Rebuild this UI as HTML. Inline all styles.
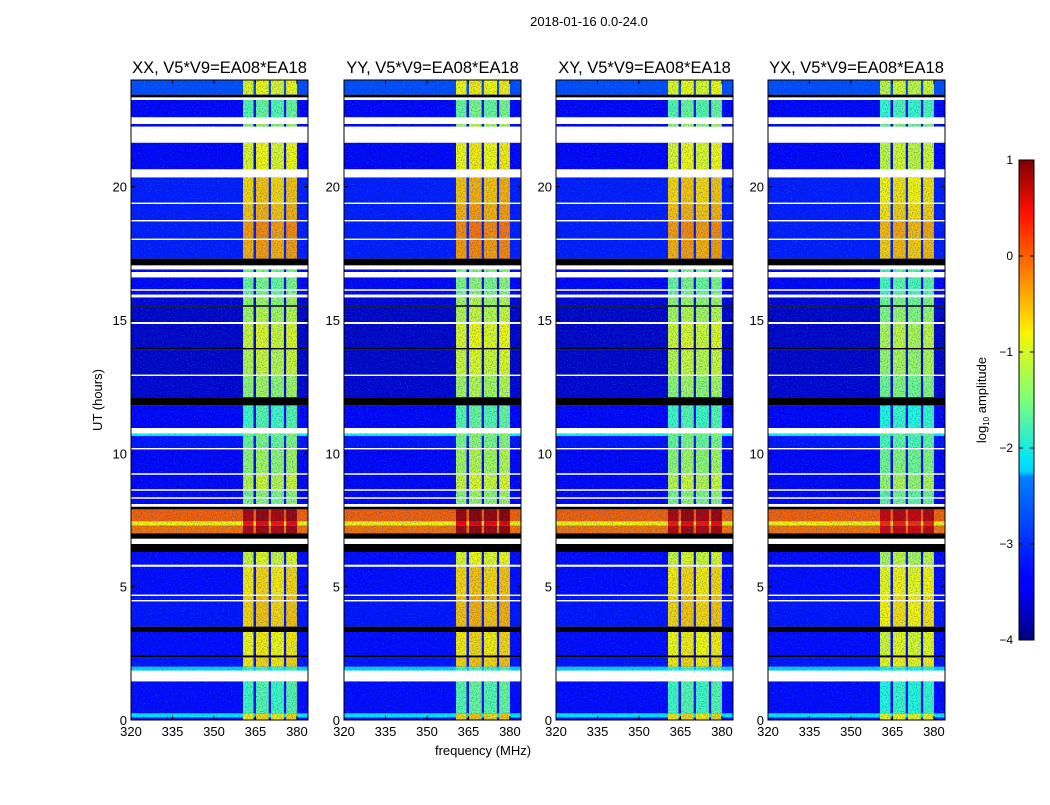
<!DOCTYPE html>
<html><head><meta charset="utf-8"><style>
body{margin:0;background:#fff;width:1050px;height:800px;overflow:hidden;font-family:"Liberation Sans",sans-serif}
svg text{font-family:"Liberation Sans",sans-serif;fill:#000}
</style></head><body>
<svg id="chart" width="1050" height="800" xmlns="http://www.w3.org/2000/svg">
<defs>
<filter id="noise" x="0" y="0" width="100%" height="100%">
<feTurbulence type="fractalNoise" baseFrequency="0.8" numOctaves="1" seed="3" result="n"/>
<feColorMatrix type="matrix" values="0 0 0 0 0  0 0 0 0 0.05  0 0 0 0 0.35  2.2 0 0 0 -0.95"/>
</filter>
<filter id="noise2" x="0" y="0" width="100%" height="100%">
<feTurbulence type="fractalNoise" baseFrequency="0.7" numOctaves="1" seed="11" result="n"/>
<feColorMatrix type="matrix" values="0 0 0 0 0.1  0 0 0 0 0.6  0 0 0 0 1  2.4 0 0 0 -1.3"/>
</filter>
<linearGradient id="jetgrad" x1="0" y1="1" x2="0" y2="0">
<stop offset="0" stop-color="#000080"/><stop offset="0.11" stop-color="#0000ff"/>
<stop offset="0.125" stop-color="#0000ff"/><stop offset="0.34" stop-color="#0080ff"/>
<stop offset="0.35" stop-color="#00d0ff"/><stop offset="0.375" stop-color="#00e4f8"/>
<stop offset="0.5" stop-color="#7dff7a"/><stop offset="0.64" stop-color="#f8f500"/>
<stop offset="0.66" stop-color="#ffe000"/><stop offset="0.8" stop-color="#ff6000"/>
<stop offset="0.89" stop-color="#ff1000"/><stop offset="1" stop-color="#800000"/>
</linearGradient>
</defs>
<text x="589" y="26" font-size="13" text-anchor="middle">2018-01-16 0.0-24.0</text>
<text x="483" y="755" font-size="13" text-anchor="middle">frequency (MHz)</text>
<text x="0" y="0" font-size="13" text-anchor="middle" transform="translate(102,400) rotate(-90)">UT (hours)</text>
<g id="panels"></g>
<g>
<rect x="1019" y="160" width="15" height="480" fill="url(#jetgrad)" stroke="#000" stroke-width="1"/>
<g id="cbticks"></g>
<text x="0" y="0" font-size="13" text-anchor="middle" transform="translate(986,400) rotate(-90)">log<tspan font-size="8" dy="3">10</tspan><tspan dy="-3"> amplitude</tspan></text>
</g>
</svg>
<script>
// data
const panelTitles = ["XX, V5*V9=EA08*EA18","YY, V5*V9=EA08*EA18","XY, V5*V9=EA08*EA18","YX, V5*V9=EA08*EA18"];
const bandShift = [0, 0.1, 0, -0.15];
const freqTicks = [320,335,350,365,380];
const timeTicks = [0,5,10,15,20];
const cbTicks = [1,0,-1,-2,-3,-4];
const cbLabels = ["1","0","\u22121","\u22122","\u22123","\u22124"];
// spectral windows (MHz)
const winStart = [360.5,365.2,370.6,376.1];
const winEnd   = [364.3,369.8,375.3,380.0];
// time segments: start hour, end hour, type (d=data, w=flagged white, k=black), bg level, band level
const segStart = [0.0,0.1,0.25,1.45,1.85,2.0,2.35,2.42,3.3,3.5,4.45,4.5,4.65,4.7,5.75,5.82,6.3,6.6,6.8,7.0,7.3,7.45,7.9,8.0,8.1,8.3,8.35,8.6,8.65,9.2,9.25,10.15,10.2,10.65,10.75,10.95,11.8,12.1,12.9,12.95,13.9,13.95,14.85,14.92,15.5,15.55,15.85,15.95,16.1,16.15,16.6,16.8,16.9,17.05,17.3,18.0,18.05,18.7,18.75,19.35,19.4,20.35,20.65,21.65,22.25,22.35,22.6,23.25,23.35,23.45];
const segEnd   = [0.1,0.25,1.45,1.85,2.0,2.35,2.42,3.3,3.5,4.45,4.5,4.65,4.7,5.75,5.82,6.3,6.6,6.8,7.0,7.3,7.45,7.9,8.0,8.1,8.3,8.35,8.6,8.65,9.2,9.25,10.15,10.2,10.65,10.75,10.95,11.8,12.1,12.9,12.95,13.9,13.95,14.85,14.92,15.5,15.55,15.85,15.95,16.1,16.15,16.6,16.8,16.9,17.05,17.3,18.0,18.05,18.7,18.75,19.35,19.4,20.35,20.65,21.65,22.25,22.35,22.6,23.25,23.35,23.45,24.0];
const segType  = ["d","d","d","w","d","d","k","d","k","d","w","d","w","d","w","d","k","w","k","d","d","d","k","w","d","w","d","w","d","w","d","w","d","d","w","d","k","d","w","d","k","d","w","d","k","d","w","d","w","d","w","d","w","k","d","w","d","w","d","w","d","w","d","w","d","w","d","w","k","d"];
const segBg    = [-3.3,-2.2,-3.35,0,-2.3,-3.3,0,-3.35,0,-3.3,0,-3.3,0,-3.35,0,-3.35,0,0,0,-0.2,-0.9,-0.1,0,0,-3.4,0,-3.4,0,-3.4,0,-3.4,0,-3.3,-2.1,0,-3.4,0,-3.6,0,-3.65,0,-3.65,0,-3.65,0,-3.55,0,-3.4,0,-3.4,0,-3.4,0,0,-3.25,0,-3.25,0,-3.25,0,-3.25,0,-3.4,0,-3.4,0,-3.4,0,0,-3.0];
const segBand  = [-0.8,-0.8,-1.8,0,-1.9,-0.8,0,-0.9,0,-0.7,0,-0.7,0,-0.8,0,-1.1,0,0,0,0.7,0.3,0.75,0,0,-1.5,0,-1.5,0,-1.2,0,-1.4,0,-1.6,-1.5,0,-1.8,0,-1.4,0,-1.2,0,-1.1,0,-1.3,0,-1.4,0,-1.6,0,-1.6,0,-1.6,0,0,-0.5,0,-0.4,0,-0.6,0,-0.7,0,-1.0,0,-1.4,0,-1.7,0,0,-1.0];

function jet(v){
  let t=Math.max(0,Math.min(1,(v+4)/5));
  const c=x=>Math.round(255*Math.max(0,Math.min(1,x)));
  const r=c(Math.min(4*t-1.5,-4*t+4.5)), g=c(Math.min(4*t-0.5,-4*t+3.5)), b=c(Math.min(4*t+0.5,-4*t+2.5));
  return `rgb(${r},${g},${b})`;
}
const NS="http://www.w3.org/2000/svg";
function mk(tag,attrs,parent){const e=document.createElementNS(NS,tag);for(const k in attrs)e.setAttribute(k,attrs[k]);parent.appendChild(e);return e;}
const panelX=[131,344,556,768], PW=177, PY0=80, PY1=720;
const fMin=320,fMax=384,tMin=0,tMax=24;
const root=document.getElementById('panels');
panelX.forEach((x0,p)=>{
  const xs=f=>x0+(f-fMin)/(fMax-fMin)*PW;
  const ys=t=>PY1-(t-tMin)/(tMax-tMin)*(PY1-PY0);
  const g=mk('g',{},root);
  
  
  const t=mk('text',{x:x0+PW/2,y:73,'font-size':16.5,'text-anchor':'middle'},g);
  t.textContent=panelTitles[p];
  
  
  const img=mk('g',{},g);
  
  
  for(let i=0;i<segStart.length;i++){
    if(segType[i]!=='d') continue;
    const y1=ys(segEnd[i]), y2=ys(segStart[i]), h=y2-y1;
    const r=mk('rect',{x:x0,y:y1,width:PW,height:h,fill:jet(segBg[i])},img);
    
    
    for(let w=0;w<winStart.length;w++){
      const c=mk('rect',{x:xs(winStart[w]),y:y1,width:xs(winEnd[w])-xs(winStart[w]),height:h,fill:jet(segBand[i]+bandShift[p]+(w%2?0.1:0))},img);
      
      
    }
  }
  mk('rect',{x:x0,y:PY0,width:PW,height:PY1-PY0,filter:'url(#noise)',opacity:0.6},img);
  mk('rect',{x:x0,y:PY0,width:PW,height:PY1-PY0,filter:'url(#noise2)',opacity:0.35},img);
  for(let i=0;i<segStart.length;i++){
    if(segType[i]==='d') continue;
    const y1=ys(segEnd[i]), y2=ys(segStart[i]), h=y2-y1;
    const r=mk('rect',{x:x0,y:y1,width:PW,height:h,fill:segType[i]==='w'?'#fff':'#000'},img);
    
    
  }
  const fr=mk('rect',{x:x0,y:PY0,width:PW,height:PY1-PY0,fill:'none',stroke:'#000','stroke-width':1},g);
  
  
  freqTicks.forEach(f=>{
    const x=xs(f);
    mk('line',{x1:x,x2:x,y1:PY1,y2:PY1-4,stroke:'#000'},g);
    mk('line',{x1:x,x2:x,y1:PY0,y2:PY0+4,stroke:'#000'},g);
    const l=mk('text',{x:x,y:PY1+16,'font-size':13,'text-anchor':'middle'},g);
    l.textContent=f;
    
    
  });
  timeTicks.forEach(tv=>{
    const y=ys(tv);
    mk('line',{x1:x0,x2:x0+4,y1:y,y2:y,stroke:'#000'},g);
    mk('line',{x1:x0+PW,x2:x0+PW-4,y1:y,y2:y,stroke:'#000'},g);
    const l=mk('text',{x:x0-4,y:y+5,'font-size':13,'text-anchor':'end'},g);
    l.textContent=tv;
    
    
  });
});
const cb=document.getElementById('cbticks');
cbTicks.forEach((v,i)=>{
  const y=640-(v+4)/5*480;
  mk('line',{x1:1019,x2:1023,y1:y,y2:y,stroke:'#000'},cb);
  mk('line',{x1:1034,x2:1030,y1:y,y2:y,stroke:'#000'},cb);
  const l=mk('text',{x:1013,y:y+4,'font-size':12,'text-anchor':'end'},cb);
  l.textContent=cbLabels[i];
  
  
});
</script>
</body></html>
